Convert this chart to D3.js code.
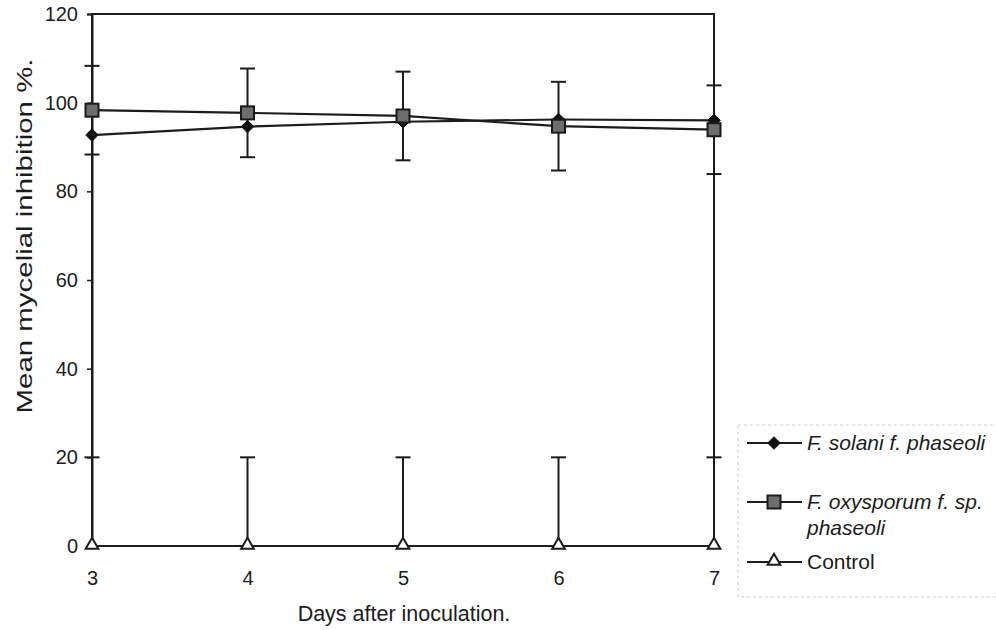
<!DOCTYPE html>
<html>
<head>
<meta charset="utf-8">
<script src="https://cdn.jsdelivr.net/npm/d3@7"></script>
<style>
  html, body { margin: 0; padding: 0; background: #fff; }
  svg { display: block; font-family: "Liberation Sans", Arial, sans-serif; }
</style>
</head>
<body>
<svg id="chart" width="996" height="630"></svg>
<script>
// ---- data ----
const days = [3, 4, 5, 6, 7];
const solani = [92.7, 94.6, 95.7, 96.2, 96.0];
const oxysporum = [98.3, 97.7, 97.0, 94.7, 93.9];
const oxysporumErr = [10, 10, 10, 10, 10];
const control = [0, 0, 0, 0, 0];
const controlErrUp = [20, 20, 20, 20, 20];
const yTicks = [0, 20, 40, 60, 80, 100, 120];
const seriesNames = ["F. solani f. phaseoli", "F. oxysporum f. sp.", "Control"];

const svg = d3.select("#chart");
const ink = "#1c1c1c";

const x = d3.scaleLinear().domain([3, 7]).range([92, 714]);
const y = d3.scaleLinear().domain([0, 120]).range([546, 14]);

// frame
svg.append("rect")
  .attr("x", x(3)).attr("y", y(120))
  .attr("width", x(7) - x(3)).attr("height", y(0) - y(120))
  .attr("fill", "none").attr("stroke", ink).attr("stroke-width", 2);

// y axis
const yAxis = d3.axisLeft(y).tickValues(yTicks).tickSize(5).tickPadding(9);
const gy = svg.append("g").attr("transform", `translate(${x(3)},0)`).call(yAxis);
gy.select(".domain").attr("stroke", ink).attr("stroke-width", 2);
gy.selectAll(".tick line").attr("stroke", ink).attr("stroke-width", 1.5);
gy.selectAll(".tick text").attr("fill", ink).style("font-size", "20px")
  .style("font-family", "Liberation Sans, Arial, sans-serif");

// x axis (labels only)
const xAxis = d3.axisBottom(x).tickValues(days).tickSize(0).tickPadding(25).tickFormat(d3.format("d"));
const gx = svg.append("g").attr("transform", `translate(0,${y(0)})`).call(xAxis);
gx.select(".domain").remove();
gx.selectAll(".tick text").attr("fill", ink).style("font-size", "20px")
  .style("font-family", "Liberation Sans, Arial, sans-serif");

// axis titles
svg.append("text").attr("x", 404).attr("y", 621).attr("text-anchor", "middle")
  .attr("fill", ink).style("font-size", "21.5px").text("Days after inoculation.");
svg.append("text")
  .attr("transform", "translate(32,236) rotate(-90)")
  .attr("text-anchor", "middle").attr("fill", ink).style("font-size", "21.5px")
  .attr("textLength", 355).attr("lengthAdjust", "spacingAndGlyphs")
  .text("Mean mycelial inhibition %.");

// error bars
const capW = 7.5;
function errBar(xv, lo, hi) {
  const g = svg.append("g").attr("stroke", ink).attr("stroke-width", 2);
  g.append("line").attr("x1", x(xv)).attr("x2", x(xv)).attr("y1", y(lo)).attr("y2", y(hi));
  g.append("line").attr("x1", x(xv) - capW).attr("x2", x(xv) + capW).attr("y1", y(hi)).attr("y2", y(hi));
  g.append("line").attr("x1", x(xv) - capW).attr("x2", x(xv) + capW).attr("y1", y(lo)).attr("y2", y(lo));
}
days.forEach((d, i) => {
  errBar(d, oxysporum[i] - oxysporumErr[i], oxysporum[i] + oxysporumErr[i]);
});
days.forEach((d, i) => {
  const g = svg.append("g").attr("stroke", ink).attr("stroke-width", 2);
  g.append("line").attr("x1", x(d)).attr("x2", x(d)).attr("y1", y(control[i])).attr("y2", y(control[i] + controlErrUp[i]));
  g.append("line").attr("x1", x(d) - capW).attr("x2", x(d) + capW)
    .attr("y1", y(control[i] + controlErrUp[i])).attr("y2", y(control[i] + controlErrUp[i]));
});

// lines
const line = d3.line().x((d, i) => x(days[i])).y(d => y(d));
[control, solani, oxysporum].forEach(s => {
  svg.append("path").datum(s).attr("d", line)
    .attr("fill", "none").attr("stroke", ink).attr("stroke-width", 2.2);
});

// markers
const diamond = d3.symbol().type(d3.symbolDiamond2).size(100);
function drawDiamond(cx, cy) {
  svg.append("path").attr("d", diamond()).attr("transform", `translate(${cx},${cy})`)
    .attr("fill", "#111").attr("stroke", "#111").attr("stroke-width", 1);
}
function drawSquare(cx, cy) {
  svg.append("rect").attr("x", cx - 6.5).attr("y", cy - 6.5).attr("width", 13).attr("height", 13)
    .attr("fill", "#6e6e6e").attr("stroke", "#1a1a1a").attr("stroke-width", 2);
}
const tri = d3.symbol().type(d3.symbolTriangle).size(70);
function drawTriangle(cx, cy) {
  svg.append("path").attr("d", tri()).attr("transform", `translate(${cx},${cy - 1})`)
    .attr("fill", "#fff").attr("stroke", ink).attr("stroke-width", 2);
}
days.forEach((d, i) => drawTriangle(x(d), y(control[i])));
days.forEach((d, i) => drawDiamond(x(d), y(solani[i])));
days.forEach((d, i) => drawSquare(x(d), y(oxysporum[i])));

// legend
svg.append("rect").attr("x", 738).attr("y", 425).attr("width", 262).attr("height", 172)
  .attr("fill", "#fff").attr("stroke", "#cfcfcf").attr("stroke-width", 1).attr("stroke-dasharray", "3,3");
const legRows = [443, 502, 562];
const drawers = [drawDiamond, drawSquare, drawTriangle];
legRows.forEach((ry, i) => {
  svg.append("line").attr("x1", 747).attr("x2", 802).attr("y1", ry).attr("y2", ry)
    .attr("stroke", ink).attr("stroke-width", 2.2);
  drawers[i](774, ry);
});
svg.append("text").attr("x", 807).attr("y", legRows[0] + 7).attr("fill", ink)
  .style("font-size", "21px").style("font-style", "italic").text(seriesNames[0]);
svg.append("text").attr("x", 807).attr("y", legRows[1] + 7).attr("fill", ink)
  .style("font-size", "21px").style("font-style", "italic").text(seriesNames[1]);
svg.append("text").attr("x", 807).attr("y", legRows[1] + 33).attr("fill", ink)
  .style("font-size", "21px").style("font-style", "italic").text("phaseoli");
svg.append("text").attr("x", 807).attr("y", legRows[2] + 7).attr("fill", ink)
  .style("font-size", "21px").text(seriesNames[2]);
</script>
</body>
</html>
